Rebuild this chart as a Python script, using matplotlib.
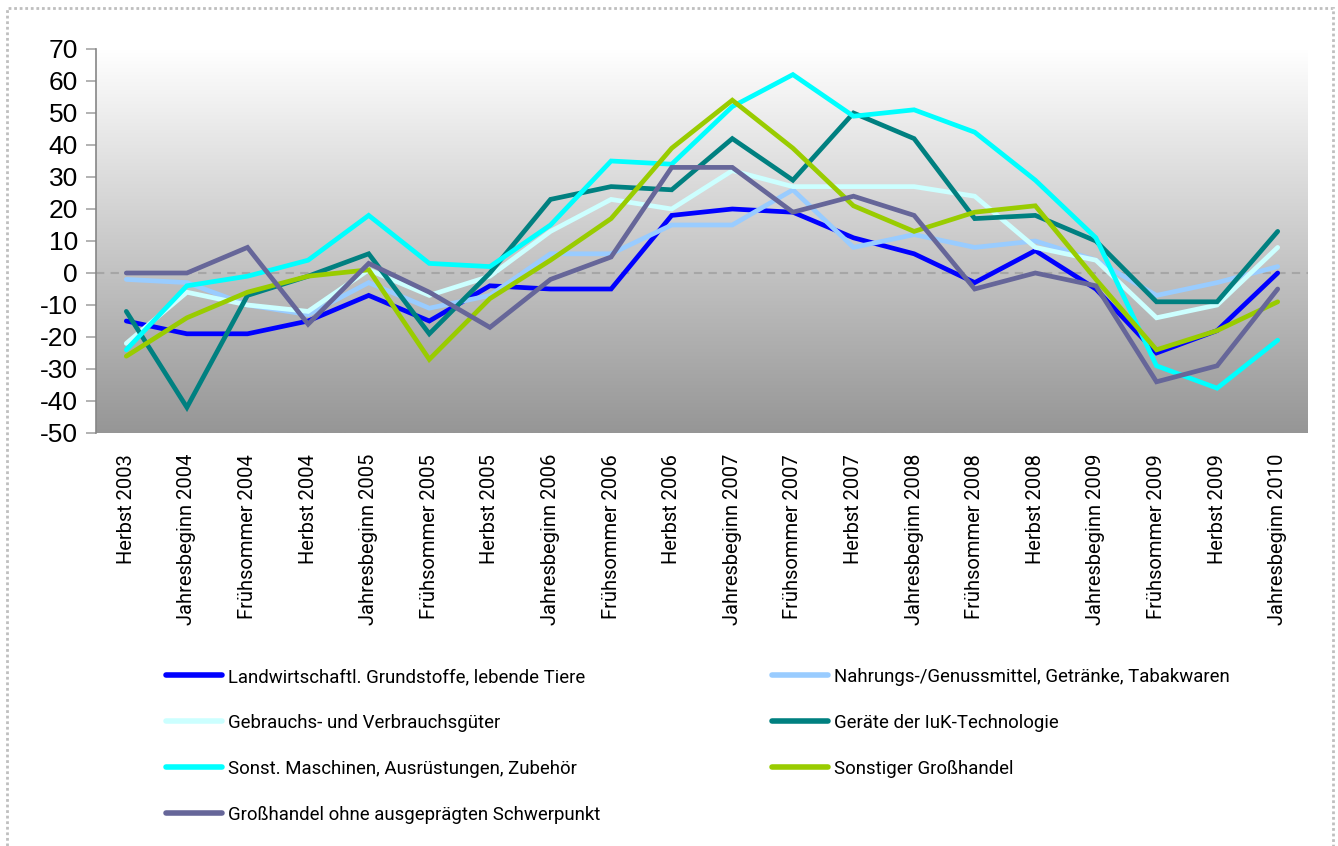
import numpy as np
import matplotlib
matplotlib.use("Agg")
import matplotlib.pyplot as plt
from matplotlib.patches import Rectangle
from matplotlib.lines import Line2D

categories = ["Herbst 2003", "Jahresbeginn 2004", "Frühsommer 2004", "Herbst 2004",
              "Jahresbeginn 2005", "Frühsommer 2005", "Herbst 2005", "Jahresbeginn 2006",
              "Frühsommer 2006", "Herbst 2006", "Jahresbeginn 2007", "Frühsommer 2007",
              "Herbst 2007", "Jahresbeginn 2008", "Frühsommer 2008", "Herbst 2008",
              "Jahresbeginn 2009", "Frühsommer 2009", "Herbst 2009", "Jahresbeginn 2010"]

landwirtschaft = [-15, -19, -19, -15, -7, -15, -4, -5, -5, 18, 20, 19, 11, 6, -3, 7, -5, -25, -18, 0]
nahrung = [-2, -3, -10, -13, -3, -11, -7, 6, 6, 15, 15, 26, 8, 12, 8, 10, 4, -7, -3, 2]
gebrauch = [-22, -6, -10, -12, 1, -7, -1, 13, 23, 20, 32, 27, 27, 27, 24, 8, 4, -14, -10, 8]
iuk = [-12, -42, -7, -1, 6, -19, 0, 23, 27, 26, 42, 29, 50, 42, 17, 18, 10, -9, -9, 13]
maschinen = [-24, -4, -1, 4, 18, 3, 2, 15, 35, 34, 52, 62, 49, 51, 44, 29, 11, -29, -36, -21]
sonstiger = [-26, -14, -6, -1, 1, -27, -8, 4, 17, 39, 54, 39, 21, 13, 19, 21, -2, -24, -18, -9]
ohne = [0, 0, 8, -16, 3, -6, -17, -2, 5, 33, 33, 19, 24, 18, -5, 0, -4, -34, -29, -5]

series_names = ["Landwirtschaftl. Grundstoffe, lebende Tiere",
                "Nahrungs-/Genussmittel, Getränke, Tabakwaren",
                "Gebrauchs- und Verbrauchsgüter",
                "Geräte der IuK-Technologie",
                "Sonst. Maschinen, Ausrüstungen, Zubehör",
                "Sonstiger Großhandel",
                "Großhandel ohne ausgeprägten Schwerpunkt"]
series_values = [landwirtschaft, nahrung, gebrauch, iuk, maschinen, sonstiger, ohne]
colors = ["#0000FF", "#99CCFF", "#CCFFFF", "#008080", "#00FFFF", "#99CC00", "#666699"]
yticks = list(range(-50, 80, 10))

W, H = 1338, 846
fig = plt.figure(figsize=(W / 100, H / 100), dpi=100)
fig.patch.set_facecolor("white")

L, R, T, B = 96, 1308, 49, 433
ax = fig.add_axes([L / W, 1 - B / H, (R - L) / W, (B - T) / H])

n = len(categories)
x = np.arange(n)
ax.set_xlim(-0.5, n - 0.5)
ax.set_ylim(-50, 70)

# gradient background
grad = np.linspace(1, 0, 256).reshape(-1, 1)
top_c = np.array([1.0, 1.0, 1.0])
bot_c = np.array([0x96, 0x96, 0x96]) / 255
img = bot_c + (top_c - bot_c) * grad
img = np.repeat(img.reshape(256, 1, 3), 2, axis=1)
ax.imshow(img, extent=[-0.5, n - 0.5, -50, 70], aspect="auto", zorder=0, origin="upper")

ax.axhline(0, color="#A6A6A6", lw=1.5, ls=(0, (4, 3)), zorder=1)

for vals, c, name in zip(series_values, colors, series_names):
    ax.plot(x, vals, color=c, lw=3.4, solid_capstyle="round", solid_joinstyle="miter", zorder=3, label=name)

for s in ["top", "right", "bottom"]:
    ax.spines[s].set_visible(False)
ax.spines["left"].set_color("#868686")
ax.spines["left"].set_linewidth(1.2)

ax.set_yticks(yticks)
ax.set_yticklabels([str(v) for v in yticks], fontsize=19, family="Liberation Sans")
ax.tick_params(axis="y", length=7, width=1.2, color="#A6A6A6", pad=6)
ax.set_xticks(x)
ax.set_xticklabels(categories, rotation=90, fontsize=14.5, family="Roboto")
ax.tick_params(axis="x", length=0, pad=15)

# legend
handles = [Line2D([0], [0], color=c, lw=4, solid_capstyle="round") for c in colors]
order1 = [0, 2, 4, 6]
order2 = [1, 3, 5]
leg_kw = dict(frameon=False, handlelength=3.0, handletextpad=0.33,
              labelspacing=1.5, borderaxespad=0, borderpad=0,
              prop={"family": "Roboto", "size": 13.4})
lg1 = fig.legend([handles[i] for i in order1], [series_names[i] for i in order1],
                 loc="upper left", bbox_to_anchor=(166 / W, 1 - 668 / H), **leg_kw)
lg2 = fig.legend([handles[i] for i in order2], [series_names[i] for i in order2],
                 loc="upper left", bbox_to_anchor=(772 / W, 1 - 668 / H), **leg_kw)

# dotted border
fig.patches.append(Rectangle((7 / W, -0.01), (1333 - 7) / W, 1 - 8 / H + 0.01,
                             transform=fig.transFigure, fill=False, edgecolor="#BFBFBF",
                             lw=2, ls=(0, (1, 1))))

fig.savefig("out.png", dpi=100, facecolor="white")
